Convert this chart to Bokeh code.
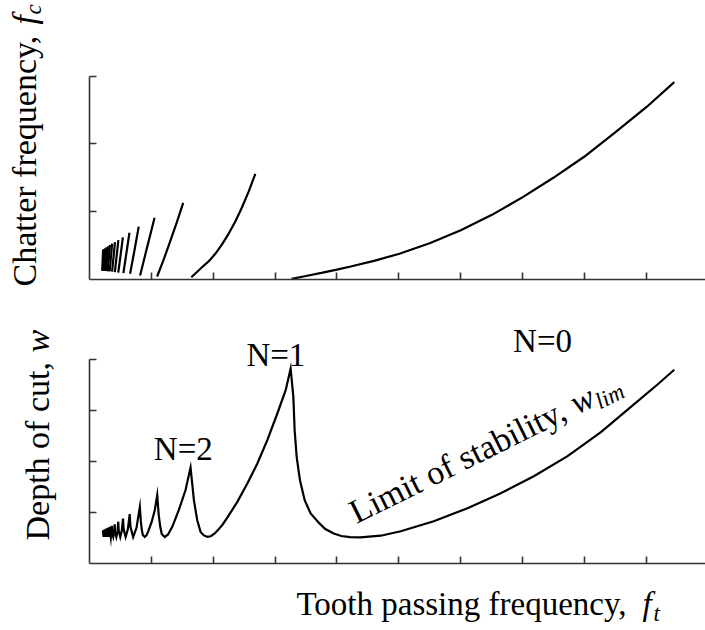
import math

from bokeh.embed import file_html
from bokeh.layouts import column, row
from bokeh.models import CustomJSTickFormatter, FixedTicker, Label, Range1d
from bokeh.plotting import figure
from bokeh.resources import INLINE

FONT = "Liberation Serif"

# ---------------------------------------------------------------------------
# Limit of stability w_lim against tooth passing frequency f_t (lobes N=15..0)
# ---------------------------------------------------------------------------
lim_f = [
    0.217, 0.228, 0.232, 0.245, 0.250, 0.264, 0.271, 0.286, 0.296, 0.313,
    0.325, 0.345, 0.361, 0.366, 0.384, 0.397, 0.407, 0.413, 0.434, 0.452,
    0.465, 0.472, 0.498, 0.522, 0.542, 0.551, 0.584, 0.620, 0.650, 0.662,
    0.706, 0.760, 0.814, 0.830, 0.846, 0.862, 0.894, 0.925, 0.952, 1.004,
    1.056, 1.095, 1.119, 1.144, 1.168, 1.217, 1.270, 1.338, 1.445, 1.553,
    1.634, 1.688, 1.742, 1.796, 1.850, 1.905, 1.960, 2.020, 2.080, 2.150,
    2.228, 2.390, 2.552, 2.714, 2.875, 3.037, 3.172, 3.252, 3.296, 3.317,
    3.350, 3.403, 3.479, 3.576, 3.710, 3.813, 3.948, 4.072, 4.215, 4.377,
    4.709, 5.032, 5.566, 6.112, 6.650, 7.184, 7.730, 8.269, 8.807, 9.175,
    9.455,
]
lim_w = [
    0.650, 0.520, 0.660, 0.520, 0.670, 0.520, 0.685, 0.520, 0.700, 0.520,
    0.720, 0.520, 0.740, 0.600, 0.520, 0.600, 0.770, 0.620, 0.520, 0.620,
    0.820, 0.650, 0.520, 0.640, 0.880, 0.680, 0.520, 0.670, 0.970, 0.720,
    0.520, 0.700, 1.110, 0.830, 0.660, 0.560, 0.520, 0.560, 0.640, 0.810,
    1.050, 1.340, 0.955, 0.720, 0.580, 0.520, 0.570, 0.720, 1.050, 1.440,
    1.880, 1.242, 0.849, 0.620, 0.550, 0.522, 0.535, 0.585, 0.660, 0.760,
    0.900, 1.208, 1.569, 1.961, 2.418, 2.941, 3.398, 3.820, 3.267, 2.610,
    2.086, 1.633, 1.241, 0.980, 0.796, 0.676, 0.588, 0.539, 0.518, 0.512,
    0.545, 0.633, 0.829, 1.084, 1.378, 1.712, 2.104, 2.575, 3.124, 3.500,
    3.800,
]

# ---------------------------------------------------------------------------
# Chatter frequency f_c along each lobe
# ---------------------------------------------------------------------------
chat_n0_f = [3.269, 3.500, 3.750, 4.000, 4.223, 4.600, 5.011, 5.500, 6.003,
             6.500, 7.006, 7.500, 7.998, 8.500, 9.008, 9.455]
chat_n0_c = [0.010, 0.052, 0.098, 0.145, 0.192, 0.275, 0.380, 0.535, 0.725,
             0.950, 1.215, 1.500, 1.810, 2.170, 2.545, 2.912]

chat_n1_f = [1.646, 1.819, 1.930, 2.034, 2.140, 2.249, 2.360, 2.466, 2.575,
             2.681]
chat_n1_c = [0.034, 0.181, 0.270, 0.379, 0.515, 0.674, 0.860, 1.066, 1.300,
             1.559]

chat_n2_f = [1.093, 1.190, 1.300, 1.410, 1.515]
chat_n2_c = [0.044, 0.270, 0.550, 0.840, 1.130]

chat_n3_f = [0.818, 0.930, 1.052]
chat_n3_c = [0.059, 0.470, 0.910]

chat_n4_f = [0.656, 0.725, 0.796]
chat_n4_c = [0.084, 0.420, 0.780]

# short lobes N = 5 ... 15: (start, end) of each segment
chat_small_f = [
    [0.548, 0.646], [0.465, 0.540], [0.410, 0.467], [0.365, 0.412],
    [0.326, 0.366], [0.295, 0.330], [0.270, 0.300], [0.248, 0.275],
    [0.230, 0.254], [0.214, 0.236], [0.205, 0.220],
]
chat_small_c = [
    [0.093, 0.690], [0.100, 0.620], [0.110, 0.580], [0.115, 0.550],
    [0.120, 0.530], [0.120, 0.510], [0.125, 0.490], [0.125, 0.475],
    [0.130, 0.460], [0.130, 0.450], [0.130, 0.440],
]

x_ticks = [1, 2, 3, 4, 5, 6, 7, 8, 9]
fc_ticks = [1, 2, 3]
w_ticks = [1, 2, 3, 4]

AXIS_COLOR = "#333333"
CURVE_WIDTH = 2.2
TITLE_SIZE = 34
LABEL_W = 60               # strip on the left holding the vertical titles
PLOT_W = 705 - LABEL_W
FRAME_LEFT = 89 - LABEL_W  # left border of every panel in the right column
blank = CustomJSTickFormatter(code='return ""')


def style_axes(p, yticks, ybound):
    p.xgrid.visible = False
    p.ygrid.visible = False
    p.outline_line_color = None
    p.background_fill_color = "white"
    p.border_fill_color = "white"
    p.xaxis.ticker = FixedTicker(ticks=x_ticks)
    p.yaxis.ticker = FixedTicker(ticks=yticks)
    p.yaxis.bounds = ybound
    for ax in (p.xaxis[0], p.yaxis[0]):
        ax.axis_line_color = AXIS_COLOR
        ax.axis_line_width = 1.6
        ax.major_tick_line_color = AXIS_COLOR
        ax.major_tick_line_width = 1.6
        ax.major_tick_in = 7
        ax.major_tick_out = 0
        ax.minor_tick_line_color = None
        ax.formatter = blank
        ax.major_label_standoff = 0
        ax.major_label_text_font_size = "1px"


def add_text(p, x, y, text, size=33, style="normal", angle=0.0,
             align="left", dx=0.0, dy=0.0):
    """Place text so that (x, y) + offset lies on its alphabetic baseline."""
    k = 0.335 * size  # centre of the glyph box above the baseline
    p.add_layout(Label(x=x, y=y, text=text, text_font=FONT,
                       text_font_size=f"{size}px", text_font_style=style,
                       angle=angle, text_align=align, text_baseline="middle",
                       x_offset=dx - k * math.sin(angle),
                       y_offset=dy + k * math.cos(angle),
                       text_color="black"))


def text_panel(width, height, left=0):
    p = figure(width=width, height=height,
               x_range=Range1d(0, width - left), y_range=Range1d(0, height),
               x_axis_type=None, y_axis_type=None, output_backend="svg",
               toolbar_location=None, min_border=0, min_border_left=left)
    p.outline_line_color = None
    p.background_fill_color = "white"
    p.border_fill_color = "white"
    return p


# ---------------------------- top: chatter frequency ------------------------
top = figure(width=PLOT_W, height=295, x_range=Range1d(0, 9.96),
             y_range=Range1d(0, 4.115), output_backend="svg",
             toolbar_location=None, min_border_left=FRAME_LEFT,
             min_border_right=0, min_border_top=0, min_border_bottom=16)
style_axes(top, fc_ticks, (0, 3))

xs = [chat_n0_f, chat_n1_f, chat_n2_f, chat_n3_f, chat_n4_f] + chat_small_f
ys = [chat_n0_c, chat_n1_c, chat_n2_c, chat_n3_c, chat_n4_c] + chat_small_c
top.multi_line(xs=xs, ys=ys, line_color="black", line_width=CURVE_WIDTH)

# ---------------------------- bottom: depth of cut --------------------------
bot = figure(width=PLOT_W, height=284, x_range=Range1d(0, 9.96),
             y_range=Range1d(0, 263 / 51), output_backend="svg",
             toolbar_location=None, min_border_left=FRAME_LEFT,
             min_border_right=0, min_border_top=5, min_border_bottom=16)
style_axes(bot, w_ticks, (0, 4))

bot.line(lim_f, lim_w, line_color="black", line_width=CURVE_WIDTH,
         line_join="miter")

add_text(bot, 1.517, 2.02, "N=2", align="center")
add_text(bot, 3.013, 3.863, "N=1", align="center")
add_text(bot, 7.325, 4.143, "N=0", align="center")

theta = math.radians(26.4)
lx, ly = 4.317, 0.775
d1 = 246.0
d2 = d1 + 23.0
drop = 6.0
add_text(bot, lx, ly, "Limit of stability, ", size=34, angle=theta)
add_text(bot, lx, ly, "w", size=34, style="italic", angle=theta,
         dx=d1 * math.cos(theta), dy=d1 * math.sin(theta))
add_text(bot, lx, ly, "lim", size=23, style="italic", angle=theta,
         dx=d2 * math.cos(theta) + drop * math.sin(theta),
         dy=d2 * math.sin(theta) - drop * math.cos(theta))

# ---------------------------- axis titles -----------------------------------
ylab = text_panel(LABEL_W, 630)
up = math.pi / 2
add_text(ylab, 35, 344, "Chatter frequency, ", size=TITLE_SIZE, angle=up)
add_text(ylab, 35, 344, "f", size=TITLE_SIZE, style="italic", angle=up,
         dy=262)
add_text(ylab, 35, 344, "c", size=23, style="italic", angle=up,
         dx=6, dy=272)
add_text(ylab, 48, 90, "Depth of cut, ", size=TITLE_SIZE, angle=up)
add_text(ylab, 48, 90, "w", size=TITLE_SIZE, style="italic", angle=up,
         dy=188)

xlab = text_panel(PLOT_W, 630 - 295 - 284, left=FRAME_LEFT)
add_text(xlab, 296 - 89, 15, "Tooth passing frequency, ", size=33)
add_text(xlab, 296 - 89, 15, "f", size=33, style="italic", dx=346)
add_text(xlab, 296 - 89, 15, "t", size=23, style="italic", dx=357, dy=-6)

layout = row(ylab, column(top, bot, xlab, spacing=0), spacing=0)
open("out.html", "w").write(file_html(layout, INLINE))
